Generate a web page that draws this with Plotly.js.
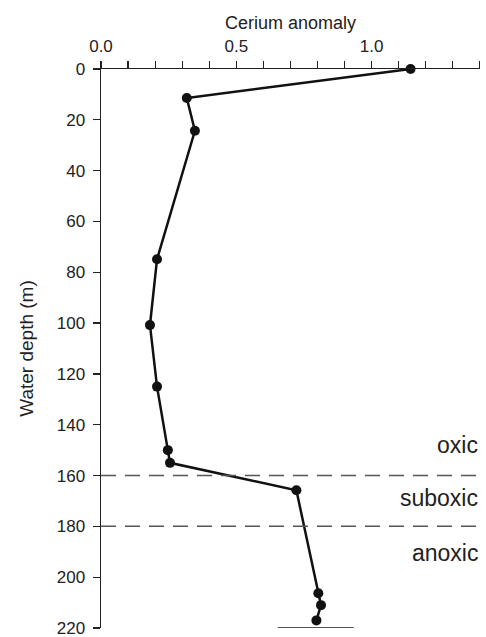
<!DOCTYPE html>
<html>
<head>
<meta charset="utf-8">
<script src="https://cdn.plot.ly/plotly-3.0.1.min.js"></script>
<style>html,body{margin:0;padding:0;background:#fff;}#chart{width:486px;height:637px;}</style>
</head>
<body>
<div id="chart"></div>
<script>
// Data
const ceriumAnomaly = [1.144, 0.317, 0.347, 0.207, 0.181, 0.207, 0.247, 0.255, 0.722, 0.803, 0.813, 0.796];
const waterDepth    = [0, 11.4, 24.3, 74.9, 100.8, 125, 150, 155, 165.8, 206.3, 211, 217];
const seafloorX = [0.653, 0.934];
const seafloorY = [220, 220];
const boundaryDepths = [160, 180];
const zoneLabels = ["oxic", "suboxic", "anoxic"];
const zoneLabelDepths = [148, 169, 190.5];
const xTickVals = [0, 0.1, 0.2, 0.3, 0.4, 0.5, 0.6, 0.7, 0.8, 0.9, 1.0, 1.1, 1.2, 1.3, 1.4];
const xTickText = ["0.0", "", "", "", "", "0.5", "", "", "", "", "1.0", "", "", "", ""];
const xRange = [0, 1.4005];
const yRange = [220, 0];

const font = "Arial, 'Liberation Sans', sans-serif";

const traces = [
  {
    x: seafloorX, y: seafloorY, type: 'scatter', mode: 'lines',
    line: {color: '#555', width: 2}, hoverinfo: 'skip', showlegend: false, cliponaxis: false
  },
  {
    x: ceriumAnomaly, y: waterDepth, type: 'scatter', mode: 'lines+markers',
    line: {color: '#111', width: 2.5},
    marker: {color: '#111', size: 10},
    showlegend: false, cliponaxis: false
  }
];

const shapes = boundaryDepths.map(d => ({
  type: 'line', xref: 'x', yref: 'y', x0: xRange[0], x1: xRange[1], y0: d, y1: d,
  line: {color: '#555', width: 1.5, dash: '15px,9px'}
}));

const annotations = zoneLabels.map((t, i) => ({
  text: t, xref: 'paper', yref: 'y', x: 1, y: zoneLabelDepths[i],
  xanchor: 'right', yanchor: 'middle', showarrow: false,
  font: {family: font, size: 23, color: '#222'}
}));

const layout = {
  width: 486, height: 637,
  margin: {l: 101, r: 6, t: 69, b: 9, pad: 0},
  paper_bgcolor: '#fff', plot_bgcolor: '#fff',
  font: {family: font, color: '#222'},
  showlegend: false,
  xaxis: {
    side: 'top', range: xRange, tickmode: 'array', tickvals: xTickVals, ticktext: xTickText,
    ticks: 'outside', ticklen: 7, tickwidth: 1.2, tickcolor: '#222',
    showline: true, linecolor: '#222', linewidth: 1.5,
    showgrid: false, zeroline: false,
    tickfont: {family: font, size: 17, color: '#222'},
    ticklabelstandoff: 2, ticklabeloverflow: 'allow',
    title: {text: 'Cerium anomaly', font: {family: font, size: 18, color: '#222'}, standoff: 2}
  },
  yaxis: {
    range: yRange, dtick: 20, tick0: 0,
    ticks: 'outside', ticklen: 7, tickwidth: 1.2, tickcolor: '#222',
    showline: true, linecolor: '#222', linewidth: 1.5,
    showgrid: false, zeroline: false,
    tickfont: {family: font, size: 17, color: '#222'},
    ticklabelstandoff: 4, ticklabeloverflow: 'allow',
    title: {text: 'Water depth (m)', font: {family: font, size: 19, color: '#222'}, standoff: 18}
  },
  shapes: shapes,
  annotations: annotations
};

Plotly.newPlot('chart', traces, layout, {displayModeBar: false, staticPlot: true});
</script>
</body>
</html>
